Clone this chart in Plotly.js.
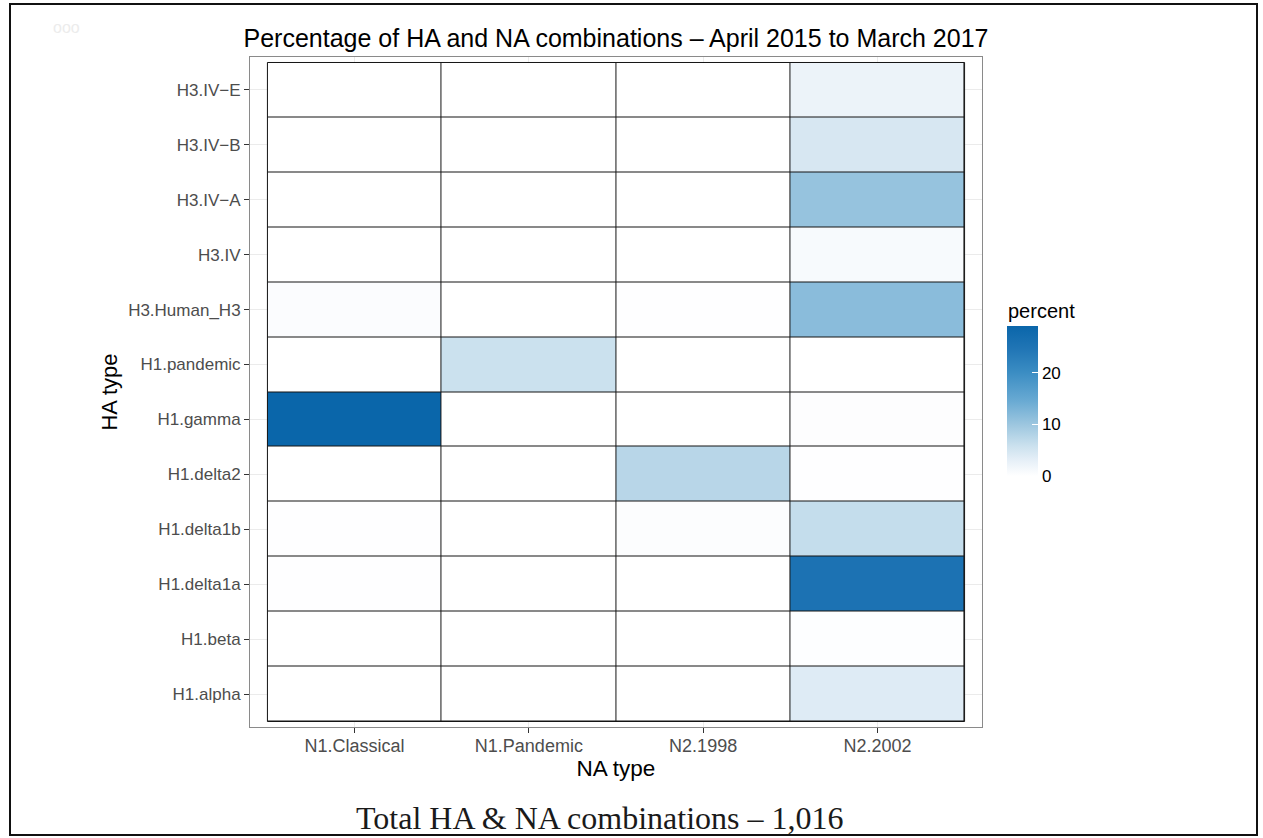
<!DOCTYPE html>
<html>
<head>
<meta charset="utf-8">
<script src="https://cdn.plot.ly/plotly-3.0.1.min.js"></script>
<style>
  html, body { margin: 0; padding: 0; background: #fff; }
  #wrap { position: relative; width: 1263px; height: 838px; }
  #chart { position: absolute; left: 0; top: 0; width: 1263px; height: 838px; }
  #frame { position: absolute; left: 9px; top: 3px; width: 1249px; height: 833px;
           border: 2px solid #111; box-sizing: border-box; pointer-events: none; }
</style>
</head>
<body>
<div id="wrap">
  <div id="chart"></div>
  <div id="frame"></div>
</div>
<script>
// NA subtypes (columns)
const naTypes = ['N1.Classical', 'N1.Pandemic', 'N2.1998', 'N2.2002'];

// HA subtypes (rows, bottom to top)
const haTypes = ['H1.alpha', 'H1.beta', 'H1.delta1a', 'H1.delta1b', 'H1.delta2',
                 'H1.gamma', 'H1.pandemic', 'H3.Human_H3', 'H3.IV',
                 'H3.IV\u2212A', 'H3.IV\u2212B', 'H3.IV\u2212E'];

// Percent of isolates per HA row, one value per NA column
const pctAlpha     = [0,   0,   0,   3.8];
const pctBeta      = [0,   0,   0,   0.2];
const pctDelta1a   = [0.1, 0,   0,   25.5];
const pctDelta1b   = [0.1, 0,   0.4, 6.4];
const pctDelta2    = [0,   0,   7.5, 0.1];
const pctGamma     = [29.0, 0,  0,   0.3];
const pctPandemic  = [0,   5.8, 0,   0];
const pctHumanH3   = [0.5, 0,   0.1, 11.6];
const pctIV        = [0,   0,   0,   1.0];
const pctIVA       = [0,   0,   0,   10.5];
const pctIVB       = [0,   0,   0,   4.6];
const pctIVE       = [0,   0,   0,   2.3];

const percent = [pctAlpha, pctBeta, pctDelta1a, pctDelta1b, pctDelta2, pctGamma,
                 pctPandemic, pctHumanH3, pctIV, pctIVA, pctIVB, pctIVE];

const colorTicks = [0, 10, 20];

const pctMax = Math.max(...percent.flat());

const blues = [
  [0.00, '#FFFFFF'],
  [0.10, '#E7F0F8'],
  [0.20, '#CBE1EE'],
  [0.345, '#9CC6DF'],
  [0.50, '#69AAD3'],
  [0.69, '#3B8DC3'],
  [0.85, '#2075B5'],
  [1.00, '#0A66AA']
];

const font = 'Liberation Sans, Arial, Helvetica, sans-serif';

// plot area in pixels, used to place the free-floating texts
const M = { l: 250, r: 281, t: 57, b: 111 };
const W = 1263, H = 838;
const PW = W - M.l - M.r, PH = H - M.t - M.b;
const px2x = p => (p - M.l) / PW;
const px2y = p => (H - M.b - p) / PH;

// Solid dark layer under the tiles: the gaps of the tile layer show it as cell borders
const borderLayer = {
  type: 'heatmap',
  x: naTypes,
  y: haTypes,
  z: percent.map(row => row.map(() => 0)),
  colorscale: [[0, '#151515'], [1, '#151515']],
  zmin: 0, zmax: 1,
  showscale: false,
  hoverinfo: 'skip'
};

const tiles = {
  type: 'heatmap',
  x: naTypes,
  y: haTypes,
  z: percent,
  zmin: 0,
  zmax: pctMax,
  colorscale: blues,
  xgap: 1,
  ygap: 1,
  hovertemplate: '%{y} / %{x}: %{z}%<extra></extra>',
  colorbar: {
    tickvals: colorTicks,
    ticks: 'inside',
    ticklen: 6,
    tickwidth: 1,
    tickcolor: '#ffffff',
    tickfont: { family: font, size: 17, color: '#000' },
    outlinewidth: 0,
    thickness: 31,
    thicknessmode: 'pixels',
    len: 150,
    lenmode: 'pixels',
    xref: 'paper',
    yref: 'paper',
    x: px2x(1007),
    xanchor: 'left',
    y: px2y(476),
    yanchor: 'bottom',
    xpad: 0,
    ypad: 0
  }
};

const layout = {
  width: W,
  height: H,
  margin: M,
  paper_bgcolor: '#ffffff',
  plot_bgcolor: '#ffffff',
  title: {
    text: 'Percentage of HA and NA combinations \u2013 April 2015 to March 2017',
    font: { family: font, size: 25, color: '#000' },
    x: 0.5, xref: 'paper',
    y: 1 - 38 / H, yref: 'container', yanchor: 'middle'
  },
  xaxis: {
    type: 'category',
    range: [-0.6, naTypes.length - 0.4],
    showgrid: true, gridcolor: '#ebebeb', gridwidth: 1,
    zeroline: false,
    showline: true, mirror: true, linecolor: '#8a8a8a', linewidth: 1,
    ticks: 'outside', ticklen: 5, tickcolor: '#333', tickwidth: 1,
    ticklabelstandoff: -3,
    tickfont: { family: font, size: 18, color: '#4d4d4d' },
    title: { text: 'NA type', font: { family: font, size: 22.5, color: '#000' }, standoff: 3 },
    fixedrange: true
  },
  yaxis: {
    type: 'category',
    range: [-0.6, haTypes.length - 0.4],
    showgrid: true, gridcolor: '#ebebeb', gridwidth: 1,
    zeroline: false,
    showline: true, mirror: true, linecolor: '#8a8a8a', linewidth: 1,
    ticks: 'outside', ticklen: 5, tickcolor: '#333', tickwidth: 1,
    ticklabelstandoff: 0,
    tickfont: { family: font, size: 17, color: '#4d4d4d' },
    title: { text: 'HA type', font: { family: font, size: 22, color: '#000' }, standoff: 4 },
    fixedrange: true
  },
  shapes: [
    {
      // outline round the whole block of tiles
      type: 'rect', xref: 'x', yref: 'y', layer: 'above',
      x0: -0.5, x1: naTypes.length - 0.5,
      y0: -0.5, y1: haTypes.length - 0.5,
      line: { color: '#151515', width: 1 }
    }
  ],
  annotations: [
    {
      text: 'percent',
      xref: 'paper', yref: 'paper',
      x: px2x(1006), y: px2y(311),
      xanchor: 'left', yanchor: 'middle',
      showarrow: false,
      font: { family: font, size: 20, color: '#000' }
    },
    {
      text: 'Total HA &amp; NA combinations \u2013 1,016',
      xref: 'paper', yref: 'paper',
      x: px2x(600), y: px2y(818),
      xanchor: 'center', yanchor: 'middle',
      showarrow: false,
      font: { family: 'Liberation Serif, DejaVu Serif, serif', size: 32, color: '#1a1a1a' }
    },
    {
      text: 'ooo',
      xref: 'paper', yref: 'paper',
      x: px2x(66), y: px2y(28),
      xanchor: 'center', yanchor: 'middle',
      showarrow: false,
      font: { family: font, size: 16, color: '#ececec' }
    }
  ]
};

Plotly.newPlot('chart', [borderLayer, tiles], layout, { staticPlot: true, displayModeBar: false });
</script>
</body>
</html>
